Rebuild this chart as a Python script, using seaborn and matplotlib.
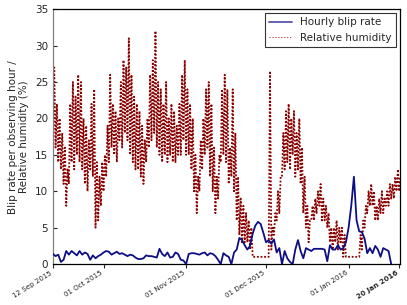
import pandas as pd
import matplotlib
matplotlib.use('Agg')
import matplotlib.pyplot as plt
import seaborn as sns

# Daily hourly-blip-rate readings, starting 12 Sep 2015
blip_start = '2015-09-12'
blip_rate = [
    1.4, 1.1, 1.3, 0.3, 0.6, 1.8, 1.3, 1.8, 1.5, 1.2,
    1.8, 1.3, 1.6, 1.4, 0.6, 1.2, 0.8, 1.1, 1.3, 1.6,
    1.8, 1.7, 1.3, 1.5, 1.7, 1.4, 1.5, 1.3, 1.1, 1.3,
    1.2, 0.9, 0.7, 0.7, 0.8, 1.2, 1.1, 1.1, 1.0, 0.9,
    2.1, 1.4, 1.1, 1.6, 0.9, 1.0, 1.6, 1.4, 0.6, 0.5,
    0.0, 1.4, 1.5, 1.5, 1.4, 1.3, 1.5, 1.6, 1.2, 1.5,
    1.4, 1.1, 0.6, 0.0, 1.5, 1.2, 1.0, 0.0, 1.6, 2.0,
    3.6, 3.3, 2.6, 2.0, 2.5, 4.2, 5.3, 5.8, 5.5, 4.3,
    3.0, 3.3, 2.8, 3.4, 1.6, 2.2, 0.0, 1.8, 0.8, 0.3,
    0.0, 2.0, 3.3, 1.8, 0.8, 2.2, 2.0, 1.8, 2.1, 2.1,
    2.1, 2.1, 2.0, 0.4, 2.6, 2.0, 2.0, 2.6, 2.0, 2.2,
    3.0, 5.0, 8.0, 12.0, 6.0, 4.5, 4.4, 3.5, 1.5, 2.2,
    1.5, 2.5, 2.0, 1.0, 2.2, 2.0, 1.8, 0.0,
]

# Daily low / high of relative humidity, 12 Sep 2015 .. 20 Jan 2016
hum_low = [
    15, 16, 14, 13, 11, 8, 11, 14, 13, 15,
    14, 13, 11, 10, 13, 12, 5, 6, 8, 10,
    12, 14, 16, 15, 14, 17, 16, 18, 17, 15,
    14, 13, 13, 12, 11, 14, 16, 17, 18, 16,
    15, 14, 15, 14, 15, 14, 14, 15, 15, 17,
    15, 15, 13, 10, 7, 10, 13, 15, 16, 12,
    10, 7, 9, 14, 15, 14, 11, 12, 10, 6,
    4, 3, 3, 3, 2, 1, 1, 1, 1, 1,
    1, 1, 2, 4, 6, 7, 12, 13, 14, 13,
    15, 12, 13, 11, 7, 5, 3, 6, 6, 7,
    8, 6, 6, 5, 3, 2, 3, 2, 3, 1,
    1, 1, 1, 1, 1, 1, 2, 5, 7, 8,
    8, 6, 6, 7, 7, 8, 8, 9, 9, 10,
    10,
]
hum_high = [
    27, 22, 20, 18, 16, 13, 22, 25, 23, 26,
    25, 20, 19, 17, 22, 24, 14, 12, 14, 15,
    19, 26, 22, 21, 20, 25, 28, 27, 31, 26,
    23, 22, 21, 19, 17, 20, 26, 28, 32, 25,
    24, 22, 25, 20, 22, 21, 19, 22, 26, 28,
    24, 22, 20, 15, 12, 17, 20, 24, 25, 22,
    16, 12, 15, 24, 26, 24, 16, 24, 18, 12,
    9, 8, 7, 6, 5, 1, 1, 1, 1, 1,
    1, 26.5, 5, 7, 10, 12, 18, 21, 22, 20,
    21, 18, 20, 16, 12, 8, 6, 8, 9, 10,
    11, 9, 8, 7, 5, 5, 6, 5, 5, 4,
    1, 1, 1, 1, 1, 4, 6, 8, 10, 11,
    10, 8, 9, 10, 9, 10, 11, 11, 12, 13,
    12,
]

tick_dates = ['2015-09-12', '2015-10-01', '2015-11-01', '2015-12-01',
              '2016-01-01', '2016-01-20']


def build_frames():
    blip = pd.DataFrame({
        'time': pd.date_range(blip_start, periods=len(blip_rate), freq='D'),
        'value': blip_rate,
    })
    # two readings per day: low in the morning, high in the afternoon
    vals = []
    for lo, hi in zip(hum_low, hum_high):
        vals += [lo, hi]
    hum = pd.DataFrame({
        'time': pd.date_range(blip_start, periods=len(vals), freq='12h'),
        'value': vals,
    })
    return blip, hum


def main():
    sns.set_style('ticks')
    plt.rcParams['font.family'] = ['DejaVu Sans']
    blip, hum = build_frames()

    fig = plt.figure(figsize=(4.07, 3.05), dpi=100)
    ax = fig.add_axes([0.130, 0.134, 0.853, 0.836])

    sns.lineplot(data=blip, x='time', y='value', ax=ax, color='#0d0d85',
                 linewidth=1.3, label='Hourly blip rate', zorder=3)
    sns.lineplot(data=hum, x='time', y='value', ax=ax, color='#8b0000',
                 linewidth=1.3, linestyle=(0, (1, 1)),
                 label='Relative humidity', zorder=2)

    ax.set_xlim(pd.Timestamp('2015-09-12'), pd.Timestamp('2016-01-20 08:00'))
    ax.set_ylim(0, 35)
    ax.set_yticks(range(0, 36, 5))
    ticks = pd.to_datetime(tick_dates)
    ax.set_xticks(ticks)
    ax.set_xticklabels([t.strftime('%d %b %Y') for t in ticks],
                       rotation=32, ha='right', fontsize=5.1)
    ax.get_xticklabels()[-1].set_fontweight('bold')
    ax.tick_params(axis='y', labelsize=7.5, direction='in', length=3)
    ax.tick_params(axis='x', direction='out', length=3, pad=1)
    ax.set_xlabel('')
    ax.set_ylabel('Blip rate per observing hour /\nRelative humidity (%)',
                  fontsize=7.5)
    for s in ax.spines.values():
        s.set_color('black')
        s.set_linewidth(0.9)
    ax.spines['left'].set_color('0.5')

    leg = ax.legend(loc='upper right', fontsize=7.5, frameon=True,
                    fancybox=False, borderaxespad=0.4, handlelength=2.2)
    leg.get_frame().set_edgecolor('black')
    leg.get_frame().set_linewidth(0.8)
    leg.get_lines()[0].set_alpha(0.7)
    leg.get_lines()[1].set_linewidth(0.8)
    leg.get_lines()[1].set_linestyle(':')
    leg.get_lines()[1].set_color('#b03030')

    fig.savefig('out.png', dpi=100)


if __name__ == '__main__':
    main()
